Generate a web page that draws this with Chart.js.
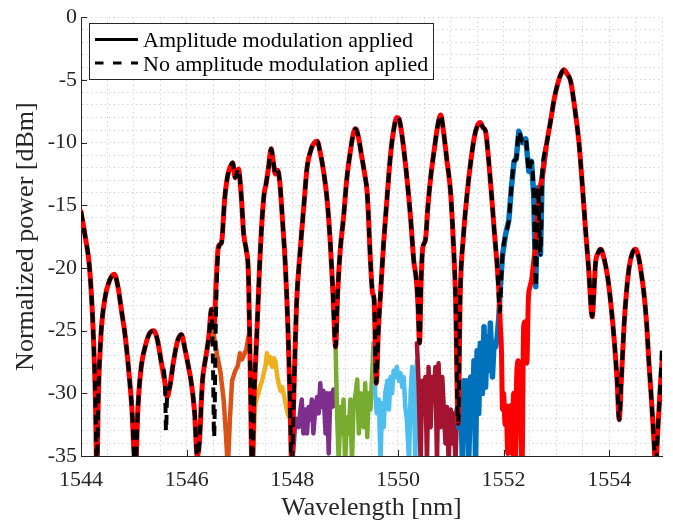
<!DOCTYPE html>
<html><head><meta charset="utf-8">
<script src="https://cdn.jsdelivr.net/npm/chart.js@4.4.0/dist/chart.umd.min.js"></script>
<style>html,body{margin:0;padding:0;background:#fff;}canvas{display:block;}</style>
</head><body>
<canvas id="c" width="673" height="525"></canvas>
<script>
const legendLabels = ['Amplitude modulation applied', 'No amplitude modulation aplied'];
const xTickLabels = [1544, 1546, 1548, 1550, 1552, 1554];
const yTickLabels = [0, -5, -10, -15, -20, -25, -30, -35];
const xTitle = 'Wavelength [nm]';
const yTitle = 'Normalized power [dBm]';

// red trace: amplitude modulation applied
const modWl = [1544.00,1544.08,1544.16,1544.22,1544.27,1544.30,1544.33,1544.38,1544.45,1544.54,1544.63,1544.70,1544.77,1544.83,1544.90,1544.96,1545.03,1545.08,1545.14,1545.22,1545.30,1545.38,1545.45,1545.52,1545.59,1545.63,1545.68,1545.75,1545.83,1545.90,1545.97,1546.04,1546.09,1546.15,1546.20,1546.24,1546.30,1546.36,1546.42,1546.47,1546.52,1546.56,1546.60,1546.66,1546.72,1546.77,1546.82,1546.87,1546.92,1546.98,1547.03,1547.08,1547.13,1547.17,1547.20,1547.24,1547.28,1547.33,1547.38,1547.43,1547.47,1547.50,1547.55,1547.60,1547.64,1547.68,1547.72,1547.76,1547.82,1547.87,1547.92,1547.96,1547.99,1548.03,1548.08,1548.15,1548.22,1548.28,1548.36,1548.42,1548.47,1548.53,1548.60,1548.66,1548.72,1548.77,1548.82,1548.86,1548.91,1548.97,1549.03,1549.10,1549.16,1549.20,1549.25,1549.31,1549.37,1549.42,1549.48,1549.52,1549.55,1549.59,1549.63,1549.67,1549.73,1549.80,1549.86,1549.92,1549.98,1550.02,1550.08,1550.17,1550.24,1550.30,1550.35,1550.38,1550.41,1550.44,1550.47,1550.52,1550.57,1550.62,1550.69,1550.76,1550.81,1550.86,1550.93,1551.00,1551.05,1551.09,1551.14,1551.18,1551.24,1551.31,1551.38,1551.45,1551.51,1551.56,1551.61,1551.66,1551.72,1551.77,1551.82,1551.88,1551.92,1551.94,1551.96,1551.98,1552.00,1552.03,1552.05,1552.08,1552.10,1552.13,1552.16,1552.19,1552.22,1552.25,1552.28,1552.31,1552.35,1552.38,1552.41,1552.44,1552.47,1552.50,1552.53,1552.57,1552.61,1552.66,1552.73,1552.80,1552.89,1552.96,1553.02,1553.08,1553.14,1553.20,1553.27,1553.35,1553.43,1553.49,1553.55,1553.61,1553.68,1553.71,1553.74,1553.79,1553.84,1553.90,1553.97,1554.04,1554.10,1554.15,1554.19,1554.23,1554.28,1554.33,1554.38,1554.44,1554.50,1554.56,1554.61,1554.66,1554.71,1554.75,1554.80,1554.85,1554.88,1554.92,1554.96,1555.00];
const modPw = [-15.5,-17.5,-19.9,-24.0,-30.0,-36.0,-30.0,-25.2,-22.5,-21.0,-20.5,-21.5,-23.5,-25.2,-28.0,-31.0,-36.0,-31.0,-27.9,-26.2,-25.2,-25.0,-25.8,-27.5,-29.2,-30.3,-29.5,-27.5,-25.8,-25.3,-26.5,-28.0,-29.2,-31.5,-35.0,-34.0,-29.0,-27.2,-25.5,-23.3,-24.5,-21.0,-18.3,-18.0,-14.5,-12.8,-12.0,-11.6,-12.8,-12.1,-14.0,-17.3,-18.6,-20.5,-27.0,-36.0,-30.0,-25.2,-20.0,-16.0,-14.0,-13.4,-12.0,-10.5,-11.5,-12.5,-12.2,-13.0,-16.5,-19.9,-25.0,-31.0,-36.0,-30.0,-23.0,-18.6,-15.0,-12.0,-10.5,-10.0,-9.9,-10.8,-12.5,-14.6,-18.0,-22.0,-26.3,-22.0,-18.5,-16.0,-13.0,-10.7,-9.2,-8.9,-9.5,-11.0,-12.5,-14.1,-19.4,-22.0,-22.5,-29.2,-25.0,-22.1,-18.0,-14.1,-11.0,-9.0,-8.0,-8.1,-9.5,-12.8,-16.0,-19.4,-21.0,-23.0,-26.0,-21.0,-18.4,-17.8,-15.0,-12.8,-10.5,-8.5,-7.8,-9.0,-11.5,-14.1,-18.0,-22.1,-32.4,-22.1,-17.5,-14.1,-11.5,-9.5,-8.6,-8.4,-8.8,-9.1,-11.5,-14.0,-16.8,-19.9,-22.5,-24.7,-26.5,-31.3,-30.0,-32.5,-31.0,-34.8,-31.5,-31.0,-34.8,-30.0,-35.5,-28.5,-27.4,-30.0,-36.0,-24.7,-24.3,-27.6,-22.5,-21.5,-21.0,-19.5,-18.1,-14.5,-12.8,-10.5,-8.3,-6.5,-5.4,-4.6,-4.2,-4.5,-5.1,-7.3,-10.1,-13.3,-16.8,-20.0,-23.9,-22.0,-19.7,-18.8,-18.5,-19.2,-20.7,-23.2,-26.0,-29.0,-32.1,-29.0,-24.7,-21.8,-19.9,-18.8,-18.5,-19.2,-20.5,-22.1,-24.5,-27.4,-30.5,-34.0,-36.0,-33.0,-30.0,-27.5];

// dashed black trace: no amplitude modulation
const refWl = [1544.00,1544.08,1544.16,1544.22,1544.27,1544.30,1544.33,1544.38,1544.45,1544.54,1544.63,1544.70,1544.77,1544.83,1544.90,1544.96,1545.03,1545.08,1545.14,1545.22,1545.30,1545.38,1545.45,1545.52,1545.59,1545.61,1545.63,1545.68,1545.75,1545.83,1545.90,1545.97,1546.04,1546.09,1546.15,1546.20,1546.24,1546.30,1546.36,1546.42,1546.47,1546.50,1546.52,1546.55,1546.58,1546.62,1546.66,1546.72,1546.77,1546.82,1546.87,1546.92,1546.98,1547.03,1547.08,1547.13,1547.17,1547.20,1547.24,1547.28,1547.33,1547.38,1547.43,1547.47,1547.50,1547.55,1547.60,1547.64,1547.68,1547.72,1547.76,1547.82,1547.87,1547.92,1547.96,1547.99,1548.03,1548.08,1548.15,1548.22,1548.28,1548.36,1548.42,1548.47,1548.53,1548.60,1548.66,1548.72,1548.77,1548.82,1548.86,1548.91,1548.97,1549.03,1549.10,1549.16,1549.20,1549.25,1549.31,1549.37,1549.42,1549.48,1549.52,1549.55,1549.59,1549.63,1549.67,1549.73,1549.80,1549.86,1549.92,1549.98,1550.02,1550.08,1550.17,1550.24,1550.30,1550.35,1550.38,1550.41,1550.44,1550.47,1550.52,1550.57,1550.62,1550.69,1550.76,1550.81,1550.86,1550.93,1551.00,1551.05,1551.09,1551.14,1551.18,1551.24,1551.31,1551.38,1551.45,1551.51,1551.56,1551.61,1551.66,1551.72,1551.77,1551.82,1551.88,1551.93,1551.96,1551.98,1552.04,1552.10,1552.15,1552.20,1552.24,1552.29,1552.33,1552.36,1552.42,1552.48,1552.53,1552.57,1552.61,1552.65,1552.70,1552.73,1552.80,1552.89,1552.96,1553.02,1553.08,1553.14,1553.20,1553.27,1553.35,1553.43,1553.49,1553.55,1553.61,1553.68,1553.71,1553.74,1553.79,1553.84,1553.90,1553.97,1554.04,1554.10,1554.15,1554.19,1554.23,1554.28,1554.33,1554.38,1554.44,1554.50,1554.56,1554.61,1554.66,1554.71,1554.75,1554.80,1554.85,1554.88,1554.92,1554.96,1555.00];
const refPw = [-15.5,-17.5,-19.9,-24.0,-30.0,-36.0,-30.0,-25.2,-22.5,-21.0,-20.5,-21.5,-23.5,-25.2,-28.0,-31.0,-36.0,-31.0,-27.9,-26.2,-25.2,-25.0,-25.8,-27.5,-29.2,-33.0,-30.3,-29.5,-27.5,-25.8,-25.3,-26.5,-28.0,-29.2,-31.5,-35.0,-34.0,-29.0,-27.2,-25.5,-23.3,-28.0,-33.5,-25.0,-20.0,-18.2,-18.0,-14.5,-12.8,-12.0,-11.6,-12.8,-12.1,-14.0,-17.3,-18.6,-20.5,-27.0,-36.0,-30.0,-25.2,-20.0,-16.0,-14.0,-13.4,-12.0,-10.5,-11.5,-12.5,-12.2,-13.0,-16.5,-19.9,-25.0,-31.0,-36.0,-30.0,-23.0,-18.6,-15.0,-12.0,-10.5,-10.0,-9.9,-10.8,-12.5,-14.6,-18.0,-22.0,-26.3,-22.0,-18.5,-16.0,-13.0,-10.7,-9.2,-8.9,-9.5,-11.0,-12.5,-14.1,-19.4,-22.0,-22.5,-29.2,-25.0,-22.1,-18.0,-14.1,-11.0,-9.0,-8.0,-8.1,-9.5,-12.8,-16.0,-19.4,-21.0,-23.0,-26.0,-21.0,-18.4,-17.8,-15.0,-12.8,-10.5,-8.5,-7.8,-9.0,-11.5,-14.1,-18.0,-22.1,-32.4,-22.1,-17.5,-14.1,-11.5,-9.5,-8.6,-8.4,-8.8,-9.1,-11.5,-14.0,-16.8,-19.9,-23.5,-20.5,-19.0,-17.3,-16.2,-13.5,-11.5,-11.3,-9.1,-9.6,-10.0,-9.7,-12.3,-11.5,-14.1,-21.5,-13.6,-18.9,-12.8,-10.5,-8.3,-6.5,-5.4,-4.6,-4.2,-4.5,-5.1,-7.3,-10.1,-13.3,-16.8,-20.0,-23.9,-22.0,-19.7,-18.8,-18.5,-19.2,-20.7,-23.2,-26.0,-29.0,-32.1,-29.0,-24.7,-21.8,-19.9,-18.8,-18.5,-19.2,-20.5,-22.1,-24.5,-27.4,-30.5,-34.0,-36.0,-33.0,-30.0,-26.3];

// per-channel traces where they separate from the red one
const blueWl = [1551.12,1551.15,1551.19,1551.22,1551.25,1551.28,1551.31,1551.34,1551.38,1551.41,1551.44,1551.47,1551.50,1551.53,1551.56,1551.60,1551.63,1551.66,1551.69,1551.72,1551.75,1551.79,1551.82,1551.85,1551.88,1551.91,1551.94,1551.98,1552.04,1552.10,1552.15,1552.20,1552.24,1552.29,1552.33,1552.36,1552.42,1552.48,1552.53,1552.57,1552.61,1552.65,1552.70,1552.73,1552.80];
const bluePw = [-31.3,-32.7,-30.0,-35.5,-29.0,-32.7,-29.0,-35.5,-28.7,-32.7,-27.4,-35.5,-26.6,-31.6,-26.0,-30.0,-24.7,-29.5,-25.5,-28.2,-24.4,-28.7,-26.0,-26.3,-25.5,-24.0,-21.5,-19.0,-17.3,-16.2,-13.5,-11.5,-11.3,-9.1,-9.6,-10.0,-9.7,-12.3,-11.5,-14.1,-21.5,-13.6,-18.9,-12.8,-10.5];
const darkRedWl = [1550.36,1550.39,1550.43,1550.46,1550.49,1550.52,1550.55,1550.58,1550.62,1550.65,1550.68,1550.71,1550.74,1550.77,1550.81,1550.84,1550.87,1550.90,1550.93,1550.96,1551.00,1551.03,1551.06,1551.09,1551.12];
const darkRedPw = [-26.0,-29.0,-35.5,-29.0,-31.6,-28.7,-35.5,-27.9,-32.7,-28.7,-30.0,-27.9,-35.5,-27.6,-32.7,-28.7,-31.3,-34.0,-31.1,-35.5,-31.3,-34.0,-31.6,-35.5,-31.3];
const lightBlueWl = [1549.55,1549.57,1549.60,1549.64,1549.67,1549.70,1549.73,1549.76,1549.80,1549.83,1549.86,1549.89,1549.92,1549.95,1549.98,1550.02,1550.05,1550.08,1550.11,1550.14,1550.17,1550.21,1550.24,1550.27,1550.30,1550.33,1550.36];
const lightBluePw = [-26.0,-30.0,-31.6,-30.5,-35.5,-30.8,-32.7,-30.0,-29.0,-31.3,-28.7,-30.0,-28.2,-28.7,-27.9,-29.0,-28.4,-29.5,-28.7,-31.1,-32.1,-35.5,-30.0,-27.9,-30.0,-35.5,-27.4];
const greenWl = [1548.82,1548.85,1548.88,1548.91,1548.94,1548.97,1549.00,1549.04,1549.07,1549.10,1549.13,1549.16,1549.20,1549.23,1549.26,1549.29,1549.32,1549.35,1549.38,1549.42,1549.45,1549.48,1549.51,1549.54];
const greenPw = [-26.3,-31.9,-35.5,-31.1,-33.2,-30.5,-35.5,-31.9,-33.2,-30.5,-35.5,-31.1,-30.0,-28.9,-33.2,-30.0,-31.9,-32.7,-29.2,-33.5,-30.0,-31.3,-28.7,-26.0];
const purpleWl = [1548.00,1548.03,1548.06,1548.09,1548.12,1548.15,1548.18,1548.21,1548.25,1548.28,1548.31,1548.34,1548.37,1548.40,1548.44,1548.47,1548.50,1548.53,1548.56,1548.59,1548.63,1548.66,1548.69,1548.72,1548.75,1548.78,1548.81];
const purplePw = [-35.5,-34.0,-32.0,-32.1,-32.7,-31.5,-30.5,-33.2,-31.3,-33.2,-31.1,-32.1,-30.5,-33.2,-31.0,-30.3,-31.6,-29.2,-31.1,-29.8,-33.2,-30.0,-34.8,-30.0,-31.1,-29.7,-31.0];
const yellowWl = [1547.26,1547.29,1547.33,1547.36,1547.40,1547.43,1547.46,1547.49,1547.52,1547.55,1547.58,1547.62,1547.65,1547.68,1547.71,1547.74,1547.78,1547.81,1547.85,1547.88,1547.92,1547.96,1547.99];
const yellowPw = [-35.5,-31.1,-30.3,-30.0,-29.3,-29.0,-28.4,-27.9,-26.8,-27.6,-27.1,-27.9,-27.2,-27.4,-28.5,-29.2,-29.8,-29.5,-30.3,-31.0,-31.7,-32.1,-34.5];
const orangeWl = [1546.47,1546.52,1546.58,1546.64,1546.70,1546.74,1546.78,1546.82,1546.86,1546.92,1546.97,1547.01,1547.05,1547.09,1547.13,1547.17,1547.20];
const orangePw = [-23.5,-25.5,-27.0,-28.3,-30.5,-33.0,-36.0,-32.0,-29.0,-28.2,-27.8,-26.8,-27.3,-26.9,-26.5,-25.5,-25.0];

const pts = (wl, pw) => wl.map((x, i) => ({x: x, y: pw[i]}));
const FONT = "'Liberation Serif', 'Times New Roman', serif";
const AX = '#262626';

function noise(wl, pw, color) {
  return {data: pts(wl, pw), borderColor: color, borderWidth: 4.5, tension: 0,
          pointRadius: 0, borderJoinStyle: 'round', borderCapStyle: 'round', clip: 0};
}

const legendPlugin = {
  id: 'boxLegend',
  afterDraw(chart) {
    const ctx = chart.ctx;
    const x0 = 89.5, y0 = 23.5, w = 344, h = 56;
    ctx.save();
    ctx.fillStyle = '#fff';
    ctx.fillRect(x0, y0, w, h);
    ctx.strokeStyle = AX; ctx.lineWidth = 1;
    ctx.strokeRect(x0, y0, w, h);
    const rows = [39.5, 63];
    legendLabels.forEach((lab, i) => {
      ctx.beginPath();
      ctx.strokeStyle = '#000'; ctx.lineWidth = 3;
      ctx.setLineDash(i === 0 ? [] : [8.5, 9.5]);
      ctx.moveTo(95, rows[i]); ctx.lineTo(138, rows[i]);
      ctx.stroke();
      ctx.setLineDash([]);
      ctx.fillStyle = '#000';
      ctx.font = "22px " + FONT;
      ctx.textBaseline = 'alphabetic';
      ctx.textAlign = 'left';
      ctx.fillText(lab, 143, rows[i] + 7.5);
    });
    ctx.restore();
  }
};

const tickPlugin = {
  id: 'innerTicks',
  afterDatasetsDraw(chart) {
    const {ctx, chartArea: a, scales: {x, y}} = chart;
    ctx.save();
    ctx.strokeStyle = AX; ctx.lineWidth = 1;
    ctx.beginPath();
    xTickLabels.forEach(v => { const px = Math.round(x.getPixelForValue(v)) + 0.5; ctx.moveTo(px, a.bottom); ctx.lineTo(px, a.bottom - 6); });
    yTickLabels.forEach(v => { const py = Math.round(y.getPixelForValue(v)) + 0.5; ctx.moveTo(a.left, py); ctx.lineTo(a.left + 6, py); });
    ctx.stroke();
    ctx.restore();
  }
};

const isLab = (v, list) => Math.abs(v - Math.round(v)) < 1e-6 && list.includes(Math.round(v));

new Chart(document.getElementById('c'), {
  type: 'line',
  data: {
    datasets: [
      {data: pts(refWl, refPw), borderColor: '#000', borderWidth: 4, borderDash: [10, 7],
       cubicInterpolationMode: 'monotone', pointRadius: 0, clip: 0},
      {data: pts(modWl, modPw), borderColor: '#FF0000', borderWidth: 5,
       cubicInterpolationMode: 'monotone', pointRadius: 0, borderJoinStyle: 'round', borderCapStyle: 'round', clip: 0},
      Object.assign(noise(blueWl, bluePw, '#0072BD'), {borderWidth: 5.5}),
      noise(darkRedWl, darkRedPw, '#A2142F'),
      noise(lightBlueWl, lightBluePw, '#4DBEEE'),
      noise(greenWl, greenPw, '#77AC30'),
      noise(purpleWl, purplePw, '#7E2F8E'),
      noise(yellowWl, yellowPw, '#EDB120'),
      noise(orangeWl, orangePw, '#D95319')
    ]
  },
  options: {
    responsive: false, animation: false, devicePixelRatio: 1,
    layout: {padding: {top: 16, right: 11, left: 0, bottom: 0}},
    plugins: {legend: {display: false}, tooltip: {enabled: false}},
    scales: {
      x: {
        type: 'linear', min: 1544, max: 1555,
        afterFit(s) { s.height = 69; },
        ticks: {stepSize: 0.5, autoSkip: false, maxRotation: 0, padding: 11, color: AX,
                font: {family: FONT, size: 22},
                callback: v => isLab(v, xTickLabels) ? String(Math.round(v)) : ''},
        grid: {color: '#d4d4d4', lineWidth: 1, drawTicks: false},
        border: {display: true, color: AX, width: 1, dash: [1.5, 3]},
        title: {display: true, text: xTitle, color: AX, font: {family: FONT, size: 26}, padding: {top: 0, bottom: 1}}
      },
      y: {
        min: -35, max: 0,
        afterFit(s) { s.width = 81; },
        ticks: {stepSize: 1, autoSkip: false, padding: 4, color: AX,
                font: {family: FONT, size: 22},
                callback: v => isLab(v, yTickLabels) ? String(Math.round(v)) : ''},
        grid: {color: '#d4d4d4', lineWidth: 1, drawTicks: false},
        border: {display: true, color: AX, width: 1, dash: [1.5, 3]},
        title: {display: true, text: yTitle, color: AX, font: {family: FONT, size: 26}, padding: {top: 11, bottom: 0}}
      }
    }
  },
  plugins: [tickPlugin, legendPlugin]
});
</script>
</body></html>
